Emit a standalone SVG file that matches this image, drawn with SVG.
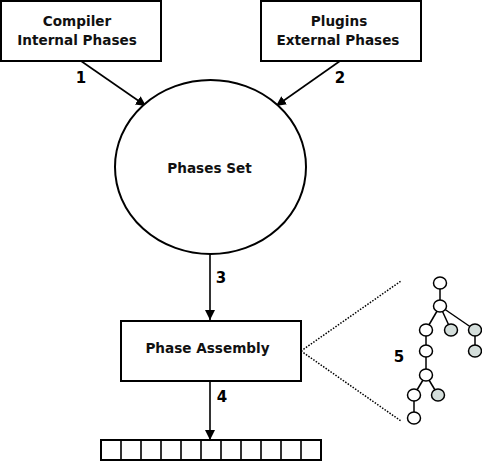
<svg xmlns="http://www.w3.org/2000/svg" width="482" height="462" viewBox="0 0 482 462">
<style>
.box{fill:#fff;stroke:#000;stroke-width:2}
.t{font-family:"DejaVu Sans",sans-serif;font-weight:bold;font-size:13.6px;text-anchor:middle;fill:#111}
.n{font-family:"DejaVu Sans",sans-serif;font-size:15px;font-weight:bold;text-anchor:middle;fill:#000}
.ln{stroke:#000;stroke-width:1.6;fill:none}
.dot{stroke:#000;stroke-width:1.5;stroke-dasharray:1.5 1.5;fill:none}
.tn{fill:#fff;stroke:#000;stroke-width:1.5}
.tg{fill:#d4dedb;stroke:#000;stroke-width:1.5}
.te{stroke:#000;stroke-width:1.5}
</style>
<defs>
<marker id="ah" viewBox="0 0 10 10" refX="10" refY="5" markerWidth="10" markerHeight="10" markerUnits="userSpaceOnUse" orient="auto">
<path d="M0,0 L10,5 L0,10 z" fill="#000"/>
</marker>
</defs>
<g id="connectors">
<line class="ln" x1="81" y1="61" x2="146" y2="106" marker-end="url(#ah)"/>
<line class="ln" x1="340" y1="61" x2="276" y2="106" marker-end="url(#ah)"/>
<line class="ln" x1="210" y1="254" x2="210" y2="320" marker-end="url(#ah)"/>
<line class="ln" x1="210" y1="381" x2="210" y2="440" marker-end="url(#ah)"/>
<line class="dot" x1="301" y1="351" x2="401" y2="281"/>
<line class="dot" x1="301" y1="351" x2="401" y2="421"/>
<text class="n" x="81" y="83">1</text>
<text class="n" x="340" y="83">2</text>
<text class="n" x="221" y="283">3</text>
<text class="n" x="222" y="402">4</text>
<text class="n" x="399" y="362">5</text>
</g>
<g id="compiler">
<rect class="box" x="1" y="1" width="160" height="60"/>
<text class="t" x="77" y="26">Compiler</text>
<text class="t" x="77" y="44.5">Internal Phases</text>
</g>
<g id="plugins">
<rect class="box" x="261" y="1" width="160" height="60"/>
<text class="t" x="339" y="26">Plugins</text>
<text class="t" x="338" y="44.5">External Phases</text>
</g>
<g id="phases-set">
<ellipse class="box" cx="210.5" cy="167" rx="95.5" ry="87"/>
<text class="t" x="209.5" y="172.5">Phases Set</text>
</g>
<g id="phase-assembly">
<rect class="box" x="121" y="321" width="180" height="60"/>
<text class="t" x="207.5" y="352.5">Phase Assembly</text>
</g>
<g id="array">
<rect class="box" x="101" y="440" width="220" height="20"/>
<path class="ln" stroke-width="1.5" d="M121,440V460M141,440V460M161,440V460M181,440V460M201,440V460M221,440V460M241,440V460M261,440V460M281,440V460M301,440V460"/>
</g>
<g id="tree">
<line class="te" x1="440" y1="283" x2="440" y2="306"/>
<line class="te" x1="440" y1="306" x2="426" y2="330"/>
<line class="te" x1="440" y1="306" x2="451" y2="330"/>
<line class="te" x1="440" y1="306" x2="475" y2="330"/>
<line class="te" x1="475" y1="330" x2="475" y2="351"/>
<line class="te" x1="426" y1="330" x2="426" y2="351"/>
<line class="te" x1="426" y1="351" x2="426" y2="375"/>
<line class="te" x1="426" y1="375" x2="414" y2="395"/>
<line class="te" x1="426" y1="375" x2="438" y2="395"/>
<line class="te" x1="414" y1="395" x2="414" y2="418"/>
<ellipse class="tn" cx="440" cy="283" rx="6.5" ry="6"/>
<ellipse class="tn" cx="440" cy="306" rx="6.5" ry="6"/>
<ellipse class="tn" cx="426" cy="330" rx="6.5" ry="6"/>
<ellipse class="tg" cx="451" cy="330" rx="6.5" ry="6"/>
<ellipse class="tg" cx="475" cy="330" rx="6.5" ry="6"/>
<ellipse class="tg" cx="475" cy="351" rx="6.5" ry="6"/>
<ellipse class="tn" cx="426" cy="351" rx="6.5" ry="6"/>
<ellipse class="tn" cx="426" cy="375" rx="6.5" ry="6"/>
<ellipse class="tn" cx="414" cy="395" rx="6.5" ry="6"/>
<ellipse class="tg" cx="438" cy="395" rx="6.5" ry="6"/>
<ellipse class="tn" cx="414" cy="418" rx="6.5" ry="6"/>
</g>
</svg>
